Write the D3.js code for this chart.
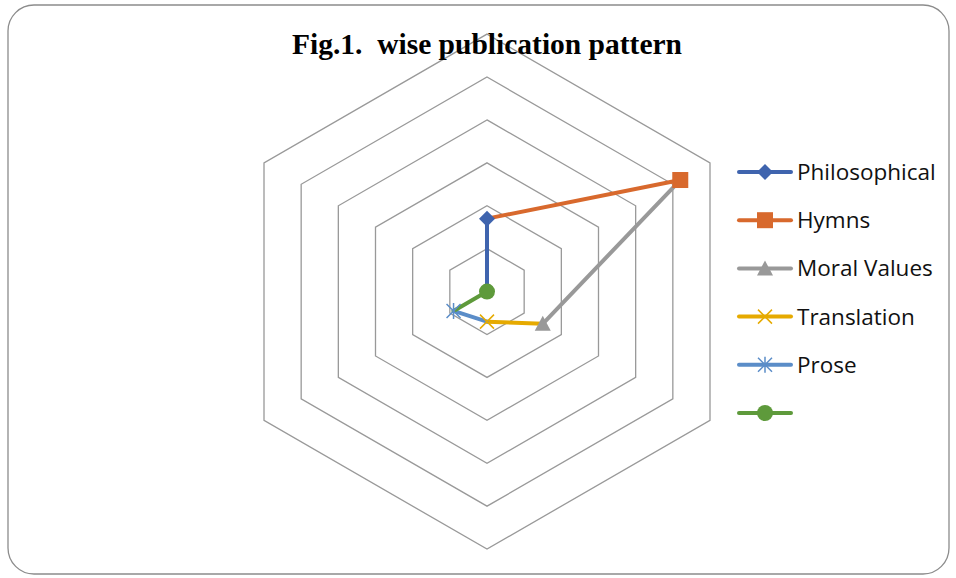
<!DOCTYPE html>
<html lang="en">
<head>
  <meta charset="UTF-8">
  <title>Fig.1 wise publication pattern</title>
  <script src="https://d3js.org/d3.v7.min.js"></script>
  <style>
    body { margin: 0; background: #fff; }
    .title { font-family: "Liberation Serif", serif; font-weight: bold; font-size: 29.5px; }
    .legend text { font-family: "Open Sans", sans-serif; font-size: 22.5px; fill: #111; }
  </style>
</head>
<body>
<svg width="956" height="578"></svg>
<script>
  const svg = d3.select("svg");

  // Data: one series, coloured by point (Excel "vary colours by point")
  const categories = ["Philosophical", "Hymns", "Moral Values", "Translation", "Prose", ""];
  const values = [17, 52, 15, 7, 9, 0];
  const colors = ["#3F64AE", "#D8692D", "#999999", "#E6AA00", "#5B8DC8", "#5E9A3B"];
  const markers = ["diamond", "square", "triangle", "x", "asterisk", "circle"];
  const ringTicks = [10, 20, 30, 40, 50, 60];

  const cx = 487, cy = 291.6, R = 257.5;
  const r = d3.scaleLinear().domain([0, 60]).range([0, R]);
  const angle = i => i * 2 * Math.PI / categories.length;
  const pt = (i, v) => [cx + r(v) * Math.sin(angle(i)), cy - r(v) * Math.cos(angle(i))];

  // chart border
  svg.append("rect")
      .attr("x", 8).attr("y", 5)
      .attr("width", 941).attr("height", 569)
      .attr("rx", 26).attr("ry", 26)
      .attr("fill", "#fff")
      .attr("stroke", "#8c8c8c")
      .attr("stroke-width", 1.3);

  // hexagon grid
  svg.append("g").selectAll("polygon")
    .data(ringTicks)
    .enter().append("polygon")
      .attr("points", t => categories.map((c, i) => pt(i, t).join(",")).join(" "))
      .attr("fill", "none")
      .attr("stroke", "#999")
      .attr("stroke-width", 1.3);

  // marker drawing
  function drawMarker(g, type, x, y, color) {
    if (type === "diamond") {
      g.append("path").attr("d", `M${x},${y-8}L${x+8},${y}L${x},${y+8}L${x-8},${y}Z`).attr("fill", color);
    } else if (type === "square") {
      g.append("rect").attr("x", x - 8).attr("y", y - 8).attr("width", 16).attr("height", 16).attr("fill", color);
    } else if (type === "triangle") {
      g.append("path").attr("d", `M${x},${y-8}L${x+8},${y+7}L${x-8},${y+7}Z`).attr("fill", color);
    } else if (type === "x") {
      g.append("path").attr("d", `M${x-7},${y-7}L${x+7},${y+7}M${x+7},${y-7}L${x-7},${y+7}`)
        .attr("stroke", color).attr("stroke-width", 1.5);
    } else if (type === "asterisk") {
      g.append("path").attr("d", `M${x-7},${y-7}L${x+7},${y+7}M${x+7},${y-7}L${x-7},${y+7}M${x},${y-8}L${x},${y+8}`)
        .attr("stroke", color).attr("stroke-width", 1.5);
    } else {
      g.append("circle").attr("cx", x).attr("cy", y).attr("r", 8).attr("fill", color);
    }
  }

  // series segments: the line into each point takes that point's colour
  const seg = svg.append("g");
  values.forEach((v, i) => {
    const prev = (i - 1 + values.length) % values.length;
    const a = pt(prev, values[prev]), b = pt(i, v);
    seg.append("line")
      .attr("x1", a[0]).attr("y1", a[1])
      .attr("x2", b[0]).attr("y2", b[1])
      .attr("stroke", colors[i])
      .attr("stroke-width", 4)
      .attr("stroke-linecap", "round");
  });

  const mk = svg.append("g");
  values.forEach((v, i) => {
    const p = pt(i, v);
    drawMarker(mk, markers[i], p[0], p[1], colors[i]);
  });

  // title
  svg.append("text")
      .attr("class", "title")
      .attr("x", 487).attr("y", 54)
      .attr("text-anchor", "middle")
      .attr("xml:space", "preserve")
      .text("Fig.1.  wise publication pattern");

  // legend
  const legend = svg.append("g").attr("class", "legend");
  categories.forEach((c, i) => {
    const y = 172 + i * 48.2;
    legend.append("line")
        .attr("x1", 739).attr("x2", 791)
        .attr("y1", y).attr("y2", y)
        .attr("stroke", colors[i])
        .attr("stroke-width", 4)
        .attr("stroke-linecap", "round");
    drawMarker(legend, markers[i], 765, y, colors[i]);
    legend.append("text")
        .attr("x", 797).attr("y", y + 8)
        .text(c);
  });
</script>
</body>
</html>
